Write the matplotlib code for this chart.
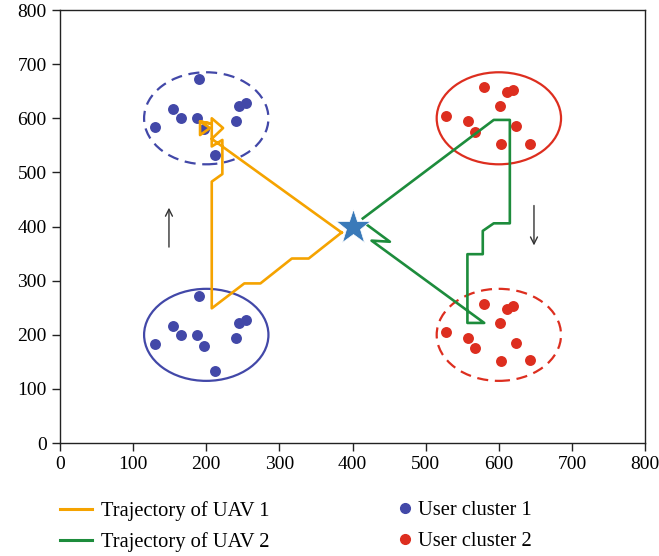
import matplotlib

matplotlib.use("Agg")
import matplotlib.pyplot as plt
from matplotlib.lines import Line2D
from matplotlib.patches import Ellipse

plt.rcParams["font.family"] = ["Liberation Serif", "DejaVu Serif"]

# user positions (cluster 1 = blue, cluster 2 = red); upper groups sit 400 m higher
C1_LOW_X = [190, 155, 165, 188, 130, 197, 212, 240, 245, 255]
C1_LOW_Y = [272, 217, 200, 200, 183, 180, 133, 195, 222, 228]
C1_HIGH_X = [190, 155, 165, 188, 130, 197, 212, 240, 245, 255]
C1_HIGH_Y = [672, 617, 600, 600, 583, 580, 533, 595, 622, 628]
C2_LOW_X = [580, 611, 620, 601, 528, 558, 568, 624, 603, 642]
C2_LOW_Y = [257, 248, 253, 222, 205, 195, 175, 185, 152, 153]
C2_HIGH_X = [580, 611, 620, 601, 528, 558, 568, 624, 603, 642]
C2_HIGH_Y = [657, 648, 653, 622, 605, 595, 575, 585, 552, 553]

# cluster boundaries: (centre x, centre y, radius, dashed)
ZONES_C1 = [(200, 600, 85, True), (200, 200, 85, False)]
ZONES_C2 = [(600, 600, 85, False), (600, 200, 85, True)]

# UAV trajectories
UAV1_X = [385, 207.5, 223, 207.5, 207.5, 191.5, 205, 191.5, 191.5, 207.5,
          207.5, 222, 222, 207.5, 207.5, 252, 274, 317, 340, 385]
UAV1_Y = [389, 562, 582, 600, 590, 594, 582, 569, 594, 590,
          548, 560, 497, 483, 249, 295, 295, 341, 341, 389]
UAV2_X = [414, 593, 615, 615, 593, 578, 578, 557, 557, 580, 426, 451, 420]
UAV2_Y = [415, 597, 597, 406, 406, 392, 349, 349, 222, 222, 374, 372, 403]

DEPOT = (400, 400)

ORANGE = "#f5a300"
GREEN = "#1d8c3c"
BLUE = "#4248a8"
RED = "#dd2e1f"
STAR = "#3a7ab9"

fig = plt.figure(figsize=(6.59, 5.56), dpi=100)
ax = fig.add_axes([0.091, 0.203, 0.888, 0.779])

for cx, cy, r, dashed in ZONES_C1:
    ax.add_patch(Ellipse((cx, cy), 2 * r, 2 * r, fill=False, ec=BLUE, lw=1.6,
                         ls=(0, (5, 3)) if dashed else "-"))
for cx, cy, r, dashed in ZONES_C2:
    ax.add_patch(Ellipse((cx, cy), 2 * r, 2 * r, fill=False, ec=RED, lw=1.6,
                         ls=(0, (5, 3)) if dashed else "-"))

ax.scatter(C1_LOW_X + C1_HIGH_X, C1_LOW_Y + C1_HIGH_Y, s=62, color=BLUE,
           lw=0, zorder=3)
ax.scatter(C2_LOW_X + C2_HIGH_X, C2_LOW_Y + C2_HIGH_Y, s=62, color=RED,
           lw=0, zorder=3)

ax.plot(UAV1_X, UAV1_Y, color=ORANGE, lw=1.9, zorder=4)
ax.plot(UAV2_X, UAV2_Y, color=GREEN, lw=1.9, zorder=4)
ax.plot(*DEPOT, marker="*", ms=26, color=STAR, mec="white", mew=0.5, zorder=5)

# flight direction arrows
ax.annotate("", xy=(149, 440), xytext=(149, 357),
            arrowprops=dict(arrowstyle="->,head_length=0.5,head_width=0.25",
                            color="#333333", lw=1.0))
ax.annotate("", xy=(648, 360), xytext=(648, 444),
            arrowprops=dict(arrowstyle="->,head_length=0.5,head_width=0.25",
                            color="#333333", lw=1.0))

ax.set_xlim(0, 800)
ax.set_ylim(0, 800)
ax.set_xticks(range(0, 801, 100))
ax.set_yticks(range(0, 801, 100))
ax.tick_params(labelsize=14, length=6, width=1.0, color="#222222")
for sp in ax.spines.values():
    sp.set_linewidth(1.0)
    sp.set_color("#222222")

line_handles = [Line2D([], [], color=ORANGE, lw=2.2),
                Line2D([], [], color=GREEN, lw=2.2)]
dot_handles = [Line2D([], [], ls="", marker="o", ms=7, color=BLUE),
               Line2D([], [], ls="", marker="o", ms=7, color=RED)]
leg_kw = dict(loc="upper left", frameon=False, fontsize=14.8, borderpad=0,
              borderaxespad=0, labelspacing=0.55)
fig.legend(line_handles, ["Trajectory of UAV 1", "Trajectory of UAV 2"],
           bbox_to_anchor=(0.091, 0.099), handlelength=1.55, handletextpad=0.45,
           **leg_kw)
fig.legend(dot_handles, ["User cluster 1", "User cluster 2"],
           bbox_to_anchor=(0.606, 0.099), handlelength=0.55, handletextpad=0.35,
           **leg_kw)

fig.savefig("out.png", dpi=100)
